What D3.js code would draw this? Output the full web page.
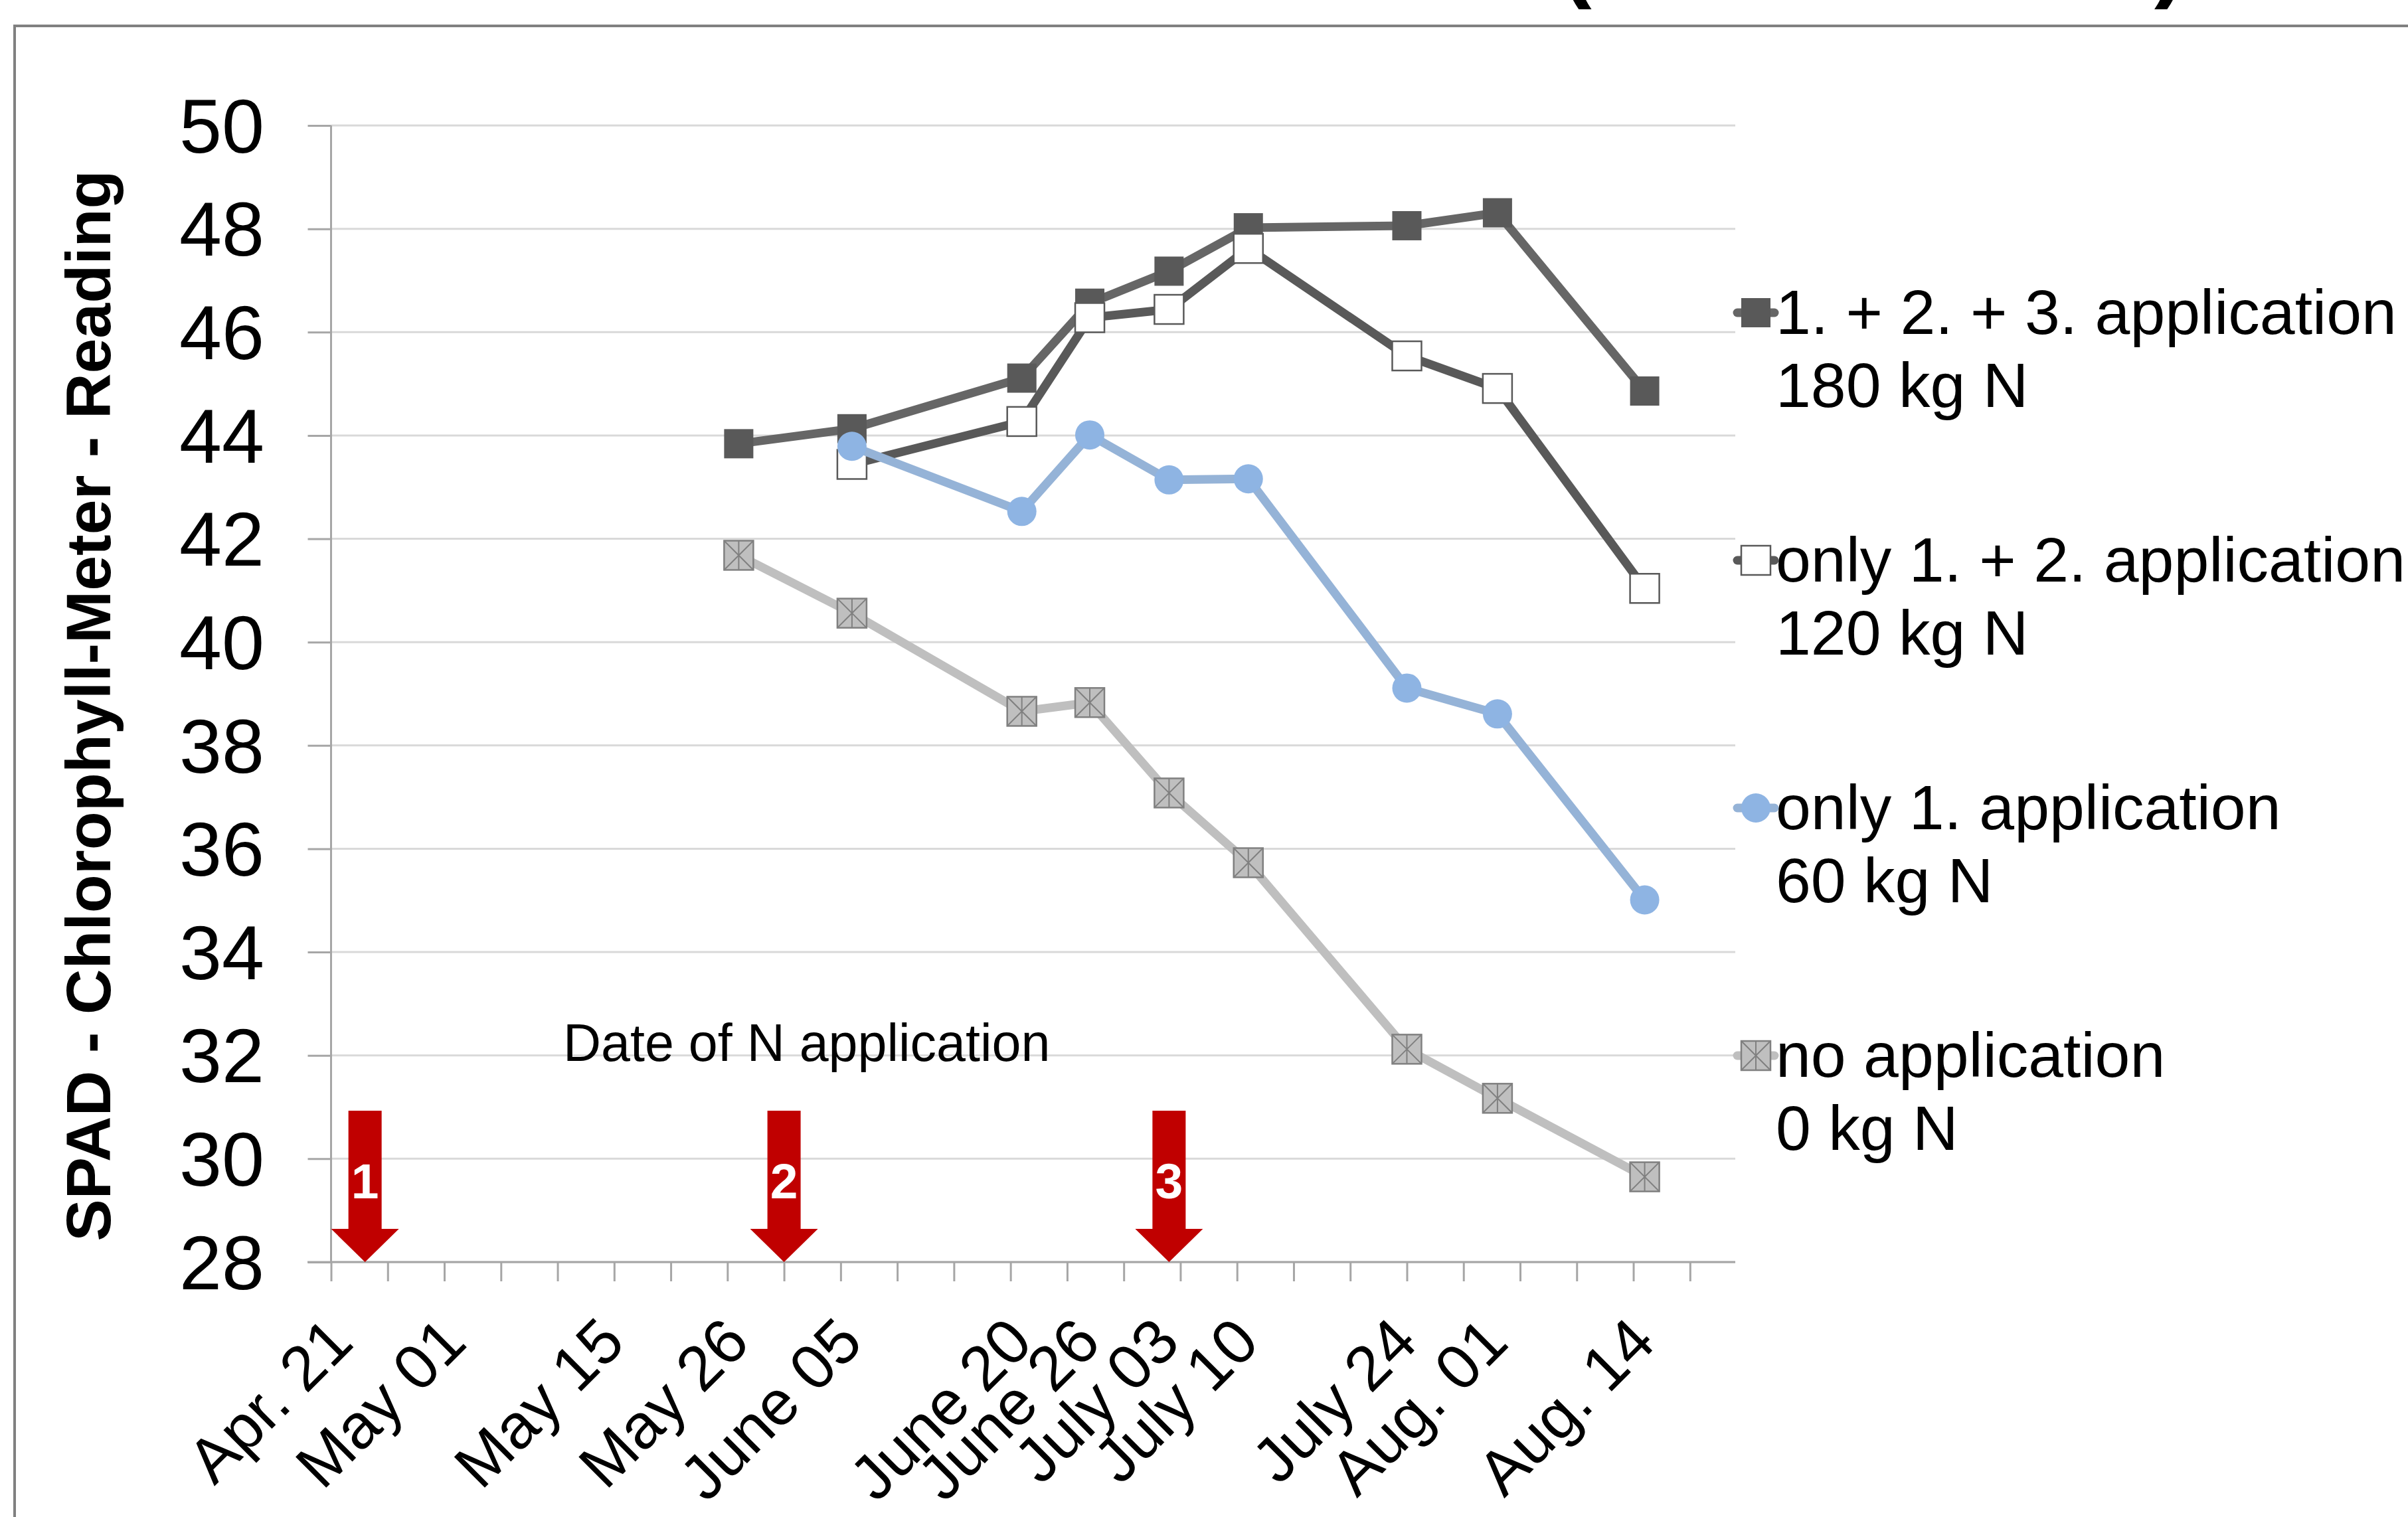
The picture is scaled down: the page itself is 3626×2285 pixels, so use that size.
<!DOCTYPE html>
<html>
<head>
<meta charset="utf-8">
<script src="https://cdn.jsdelivr.net/npm/d3@7/dist/d3.min.js"></script>
<style>
  html, body { margin: 0; padding: 0; background: #ffffff; }
  svg { display: block; }
</style>
</head>
<body>
<div id="chart"></div>
<script>
/* SPAD chlorophyll readings by N treatment, drawn like the Excel original. */

// sampling dates (one value per date in each series)
const sampleDates = ['2013-05-26', '2013-06-05', '2013-06-20', '2013-06-26', '2013-07-03',
  '2013-07-10', '2013-07-24', '2013-08-01', '2013-08-14'];

const values180 = [43.84, 44.13, 45.11, 46.56, 47.18, 48.02, 48.06, 48.31, 44.86];
const values120 = [null, 43.44, 44.27, 46.28, 46.44, 47.62, 45.54, 44.91, 41.04];
const values60 = [null, 43.79, 42.53, 44.01, 43.14, 43.16, 39.11, 38.61, 35.01];
const values0 = [41.68, 40.56, 38.66, 38.83, 37.08, 35.73, 32.12, 31.17, 29.65];

const legendLine1 = ['1. + 2. + 3. application', 'only 1. + 2. application', 'only 1. application', 'no application'];
const legendLine2 = ['180 kg N', '120 kg N', '60 kg N', '0 kg N'];

const tickLabelDates = ['2013-04-21', '2013-05-01', '2013-05-15', '2013-05-26', '2013-06-05', '2013-06-20',
  '2013-06-26', '2013-07-03', '2013-07-10', '2013-07-24', '2013-08-01', '2013-08-14'];
const tickLabels = ['Apr. 21', 'May 01', 'May 15', 'May 26', 'June 05', 'June 20',
  'June 26', 'July 03', 'July 10', 'July 24', 'Aug. 01', 'Aug. 14'];

const applicationDates = ['2013-04-23', '2013-05-30', '2013-07-03'];
const applicationLabels = ['1', '2', '3'];

const yTicks = [28, 30, 32, 34, 36, 38, 40, 42, 44, 46, 48, 50];

(function () {
  const W = 3626;
  const H = 2285;
  const FONT = '"Liberation Sans", Arial, sans-serif';
  const parseDate = d3.timeParse('%Y-%m-%d');

  const axisStart = parseDate('2013-04-20');
  const axisEnd = parseDate('2013-08-22');
  const plot = { left: 498.5, right: 2613, top: 189, bottom: 1901 };

  const styles = [
    { line: '#666666', marker: 'square', fill: '#595959', stroke: 'none' },
    { line: '#595959', marker: 'square', fill: '#ffffff', stroke: '#595959' },
    { line: '#95b3d7', marker: 'circle', fill: '#8eb4e3', stroke: 'none' },
    { line: '#bfbfbf', marker: 'star', fill: '#bfbfbf', stroke: '#808080' }
  ];
  const allSeries = [values180, values120, values60, values0];

  const svg = d3.select('#chart').append('svg')
    .attr('width', W)
    .attr('height', H)
    .attr('viewBox', `0 0 ${W} ${H}`);

  // frame and the cut-off title brackets
  svg.append('text').attr('x', 2350).attr('y', -15)
    .attr('font-family', FONT).attr('font-weight', 'bold').attr('font-size', 140).text('(');
  svg.append('text').attr('x', 3244).attr('y', -15)
    .attr('font-family', FONT).attr('font-weight', 'bold').attr('font-size', 140).text(')');
  svg.append('path')
    .attr('d', `M22,${H} L22,39 L${W},39`)
    .attr('fill', 'none').attr('stroke', '#808080').attr('stroke-width', 4);

  const x = d3.scaleTime().domain([axisStart, axisEnd]).range([plot.left, plot.right]);
  const y = d3.scaleLinear().domain([28, 50]).range([plot.bottom, plot.top]);

  // gridlines
  svg.append('g').selectAll('line')
    .data(yTicks)
    .enter().append('line')
    .attr('x1', plot.left).attr('x2', plot.right)
    .attr('y1', d => y(d)).attr('y2', d => y(d))
    .attr('stroke', '#d9d9d9').attr('stroke-width', 3);

  // y axis
  const yAxis = svg.append('g')
    .attr('transform', `translate(${plot.left},0)`)
    .call(d3.axisLeft(y).tickValues(yTicks).tickSize(35).tickPadding(100).tickFormat(d3.format('d')));
  yAxis.select('.domain').remove();
  yAxis.selectAll('.tick line').attr('stroke', '#a6a6a6').attr('stroke-width', 3);
  yAxis.selectAll('.tick text').attr('font-family', FONT).attr('font-size', 115)
    .attr('fill', '#000').attr('x', 398 - plot.left).attr('dy', '0.35em');

  // x axis: tick every 5 days, labels only on sampling dates
  const dayTicks = d3.range(0, 121, 5).map(n => d3.timeDay.offset(axisStart, n));
  const xAxis = svg.append('g')
    .attr('transform', `translate(0,${plot.bottom})`)
    .call(d3.axisBottom(x).tickValues(dayTicks).tickSize(29).tickFormat(''));
  xAxis.select('.domain').remove();
  xAxis.selectAll('.tick line').attr('stroke', '#a6a6a6').attr('stroke-width', 3);

  svg.append('line')
    .attr('x1', 463).attr('x2', plot.right)
    .attr('y1', plot.bottom).attr('y2', plot.bottom)
    .attr('stroke', '#a6a6a6').attr('stroke-width', 3);
  svg.append('line')
    .attr('x1', plot.left).attr('x2', plot.left)
    .attr('y1', plot.top).attr('y2', plot.bottom)
    .attr('stroke', '#a6a6a6').attr('stroke-width', 3);

  svg.append('g').selectAll('text')
    .data(tickLabels)
    .enter().append('text')
    .attr('transform', (d, i) => `translate(${x(parseDate(tickLabelDates[i])) + 20},${plot.bottom + 125}) rotate(-45)`)
    .attr('text-anchor', 'end')
    .attr('font-family', FONT).attr('font-size', 95)
    .text(d => d);

  // y axis title
  svg.append('text')
    .attr('transform', 'translate(166,1063) rotate(-90)')
    .attr('text-anchor', 'middle')
    .attr('font-family', FONT).attr('font-weight', 'bold').attr('font-size', 95)
    .text('SPAD - Chlorophyll-Meter - Reading');

  // application arrows
  svg.append('text')
    .attr('x', 848).attr('y', 1598)
    .attr('font-family', FONT).attr('font-size', 79)
    .text('Date of N application');

  const arrows = svg.append('g').selectAll('g')
    .data(applicationDates)
    .enter().append('g')
    .attr('transform', d => `translate(${x(parseDate(d))},${plot.bottom})`);
  arrows.append('path')
    .attr('d', 'M-25,-228 L25,-228 L25,-50 L51,-50 L0,0 L-51,-50 L-25,-50 Z')
    .attr('fill', '#c00000');
  arrows.append('text')
    .attr('y', -96)
    .attr('text-anchor', 'middle')
    .attr('font-family', FONT).attr('font-weight', 'bold').attr('font-size', 75)
    .attr('fill', '#ffffff')
    .text((d, i) => applicationLabels[i]);

  const drawMarker = (g, type, cx, cy, st) => {
    const s = 22;
    if (type === 'circle') {
      g.append('circle').attr('cx', cx).attr('cy', cy).attr('r', s).attr('fill', st.fill);
      return;
    }
    g.append('rect')
      .attr('x', cx - s).attr('y', cy - s).attr('width', 2 * s).attr('height', 2 * s)
      .attr('fill', st.fill)
      .attr('stroke', st.stroke).attr('stroke-width', st.stroke === 'none' ? 0 : 2.5);
    if (type === 'star') {
      g.append('path')
        .attr('d', `M${cx - s},${cy - s}L${cx + s},${cy + s}M${cx + s},${cy - s}L${cx - s},${cy + s}M${cx},${cy - s}L${cx},${cy + s}`)
        .attr('stroke', st.stroke).attr('stroke-width', 2).attr('fill', 'none');
    }
  };

  const line = d3.line()
    .defined(d => d.v !== null)
    .x(d => x(d.date))
    .y(d => y(d.v));

  allSeries.forEach((values, si) => {
    const st = styles[si];
    const pts = values.map((v, i) => ({ date: parseDate(sampleDates[i]), v }));
    const g = svg.append('g');
    g.append('path')
      .datum(pts)
      .attr('d', line)
      .attr('fill', 'none')
      .attr('stroke', st.line)
      .attr('stroke-width', 13)
      .attr('stroke-linejoin', 'round');
    pts.filter(p => p.v !== null).forEach(p => drawMarker(g, st.marker, x(p.date), y(p.v), st));
  });

  // legend
  const legend = svg.append('g');
  legendLine1.forEach((label, i) => {
    const cy = 471 + i * 373;
    const st = styles[i];
    const g = legend.append('g');
    g.append('line')
      .attr('x1', 2616).attr('x2', 2672).attr('y1', cy).attr('y2', cy)
      .attr('stroke', st.line).attr('stroke-width', 13).attr('stroke-linecap', 'round');
    drawMarker(g, st.marker, 2644, cy, st);
    const t = g.append('text')
      .attr('font-family', FONT).attr('font-size', 95);
    t.append('tspan').attr('x', 2674).attr('y', cy + 32).text(label);
    t.append('tspan').attr('x', 2674).attr('y', cy + 142).text(legendLine2[i]);
  });
})();
</script>
</body>
</html>
